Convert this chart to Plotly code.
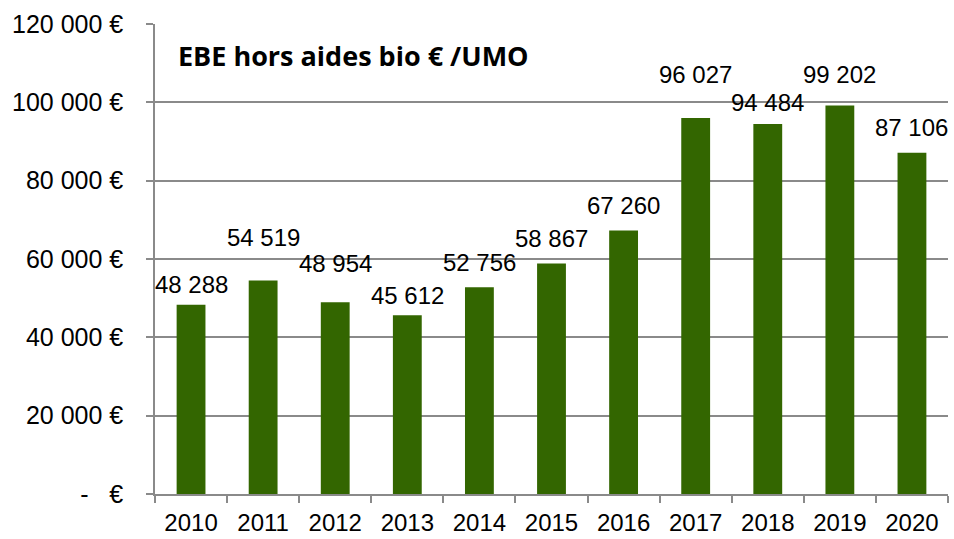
import plotly.graph_objects as go

years = ["2010", "2011", "2012", "2013", "2014", "2015", "2016", "2017", "2018", "2019", "2020"]
ebe = [48288, 54519, 48954, 45612, 52756, 58867, 67260, 96027, 94484, 99202, 87106]
y_tick_vals = [0, 20000, 40000, 60000, 80000, 100000, 120000]
y_tick_text = ["-   €", "20 000 €", "40 000 €", "60 000 €", "80 000 €", "100 000 €", "120 000 €"]
title_text = "EBE hors aides bio € /UMO"

# label offsets (px above bar top), style only
label_yshift = [20, 43, 39, 20, 25, 25, 25, 43, 21, 31, 25]

fig = go.Figure()
fig.add_trace(go.Bar(x=years, y=ebe, marker=dict(color="#336600", line=dict(width=0)), width=0.4))

for i, (v, s) in enumerate(zip(ebe, label_yshift)):
    fig.add_annotation(x=i, y=v, text=f"{v:,}".replace(",", " "), showarrow=False,
                       yanchor="middle", yshift=s,
                       font=dict(family="Liberation Sans, Arial", size=24, color="#000000"))

fig.add_annotation(xref="paper", yref="paper", x=0.027, y=0.934, xanchor="left", yanchor="middle",
                   text=f"<b>{title_text}</b>", showarrow=False,
                   font=dict(family="Open Sans", size=27, color="#000000"))

fig.update_layout(
    width=954, height=539,
    margin=dict(l=155, r=6, t=24, b=45),
    paper_bgcolor="white", plot_bgcolor="white",
    showlegend=False, bargap=0.6,
    font=dict(family="Liberation Sans, Arial", size=24, color="#000000"),
)
fig.update_yaxes(range=[0, 120000], tickvals=y_tick_vals, ticktext=y_tick_text,
                 showgrid=True, gridcolor="#8a8a8a", gridwidth=1.5,
                 showline=True, linecolor="#8a8a8a", linewidth=1.5,
                 ticks="outside", ticklen=7, tickcolor="#8a8a8a", tickwidth=1.5,
                 ticklabelstandoff=18, zeroline=False, automargin=False,
                 tickfont=dict(family="Liberation Sans, Arial", size=25, color="#000000"))
fig.update_xaxes(type="category", range=[-0.5, 10.5], showline=True, linecolor="#8a8a8a", linewidth=1.5,
                 ticks="outside", tickson="boundaries", ticklen=7, tickcolor="#8a8a8a", tickwidth=1.5,
                 showgrid=False, tickangle=0, automargin=False, ticklabelstandoff=6,
                 tickfont=dict(family="Liberation Sans, Arial", size=24, color="#000000"))

fig.write_html("out.html", config={"displayModeBar": False},
               post_script="document.body.style.margin='0px';")
